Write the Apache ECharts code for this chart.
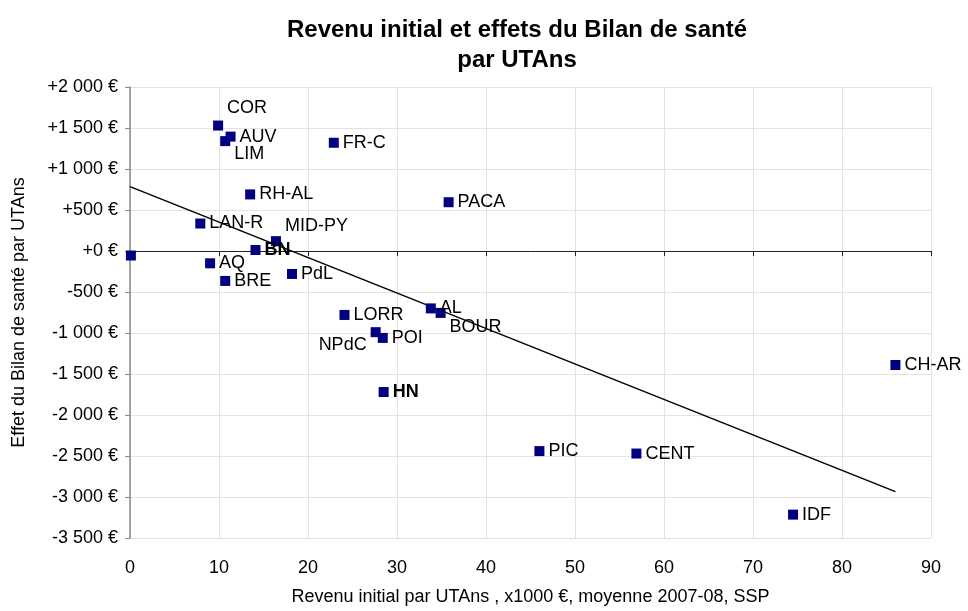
<!DOCTYPE html>
<html>
<head>
<meta charset="utf-8">
<script src="https://cdn.jsdelivr.net/npm/echarts@6/dist/echarts.min.js"></script>
<style>
  html, body { margin: 0; padding: 0; background: #fff; }
  #chart { width: 968px; height: 611px; }
</style>
</head>
<body>
<div id="chart"></div>
<script>
const regions = ["COR", "AUV", "LIM", "FR-C", "RH-AL", "PACA", "LAN-R", "MID-PY", "BN", "", "AQ", "BRE", "PdL",
    "LORR", "AL", "BOUR", "NPdC", "POI", "HN", "PIC", "CENT", "IDF", "CH-AR"];
const revenu = [9.9, 11.3, 10.7, 22.9, 13.5, 35.8, 7.9, 16.4, 14.1, 0.1, 9.0, 10.7, 18.2,
    24.1, 33.8, 34.9, 27.6, 28.4, 28.5, 46.0, 56.9, 74.5, 86.0];
const effet = [1530, 1395, 1340, 1320, 690, 595, 335, 120, 12, -55, -150, -365, -280,
    -780, -700, -755, -990, -1060, -1720, -2440, -2470, -3215, -1390];
const boldRegions = ["BN", "HN"];
const trendX = [0, 86];
const trendY = [785, -2935];

// hand placed labels (like in the Excel original)
const labelPlace = {
    "COR": { position: "right", offset: [0, -18] },
    "LIM": { position: "right", offset: [0, 13] },
    "MID-PY": { position: "right", offset: [0, -15] },
    "BOUR": { position: "right", offset: [0, 14] },
    "NPdC": { position: "left", offset: [0, 13] },
};

const font = "'Liberation Sans', Arial, sans-serif";

function euro(v) {
    const sign = v >= 0 ? "+" : "-";
    const s = String(Math.abs(v)).replace(/\B(?=(\d{3})+(?!\d))/g, " ");
    return sign + s + " €";
}

const points = regions.map((name, i) => {
    const place = labelPlace[name] || { position: "right", offset: [0, 0] };
    return {
        name,
        value: [revenu[i], effet[i]],
        label: {
            show: name !== "",
            position: place.position,
            offset: place.offset,
            distance: 4,
            fontWeight: boldRegions.includes(name) ? "bold" : "normal",
        },
    };
});

const chart = echarts.init(document.getElementById("chart"));
chart.setOption({
    animation: false,
    title: {
        text: "Revenu initial et effets du Bilan de santé\npar UTAns",
        left: 512,
        top: 10,
        textAlign: "center",
        textStyle: { fontFamily: font, fontSize: 24, fontWeight: "bold", color: "#000", lineHeight: 30 },
    },
    grid: { left: 130, right: 37, top: 87, bottom: 72 },
    xAxis: [
        {
            type: "value",
            min: 0,
            max: 90,
            interval: 10,
            name: "Revenu initial par UTAns , x1000 €, moyenne 2007-08, SSP",
            nameLocation: "middle",
            nameGap: 50,
            nameTextStyle: { fontFamily: font, fontSize: 18, color: "#000" },
            axisLine: { show: false, onZero: false },
            axisTick: { show: false },
            axisLabel: { fontFamily: font, fontSize: 18, color: "#000", margin: 21 },
            splitLine: { show: true, lineStyle: { color: "#e3e3e3", width: 1 } },
        },
        {
            type: "value",
            min: 0,
            max: 90,
            interval: 10,
            position: "bottom",
            axisLine: { show: true, onZero: true, lineStyle: { color: "#222", width: 1 } },
            axisTick: { show: true, length: 5, lineStyle: { color: "#222" } },
            axisLabel: { show: false },
            splitLine: { show: false },
        },
    ],
    yAxis: {
        type: "value",
        min: -3500,
        max: 2000,
        interval: 500,
        name: "Effet du Bilan de santé par UTAns",
        nameLocation: "middle",
        nameRotate: 90,
        nameGap: 102,
        nameTextStyle: { fontFamily: font, fontSize: 18, color: "#000" },
        axisLine: { show: true, lineStyle: { color: "#888", width: 1.5 } },
        axisTick: { show: true, length: 5, lineStyle: { color: "#888" } },
        axisLabel: { fontFamily: font, fontSize: 18, color: "#000", margin: 12, formatter: euro },
        splitLine: { show: true, lineStyle: { color: "#e3e3e3", width: 1 } },
    },
    series: [
        {
            type: "line",
            data: trendX.map((x, i) => [x, trendY[i]]),
            showSymbol: false,
            lineStyle: { color: "#000", width: 1.5 },
            z: 3,
            silent: true,
        },
        {
            type: "scatter",
            symbol: "rect",
            symbolSize: 10,
            itemStyle: { color: "#000080", opacity: 1 },
            label: {
                formatter: (p) => p.name,
                fontFamily: font,
                fontSize: 18,
                color: "#000",
            },
            data: points,
            z: 4,
        },
    ],
});
</script>
</body>
</html>
